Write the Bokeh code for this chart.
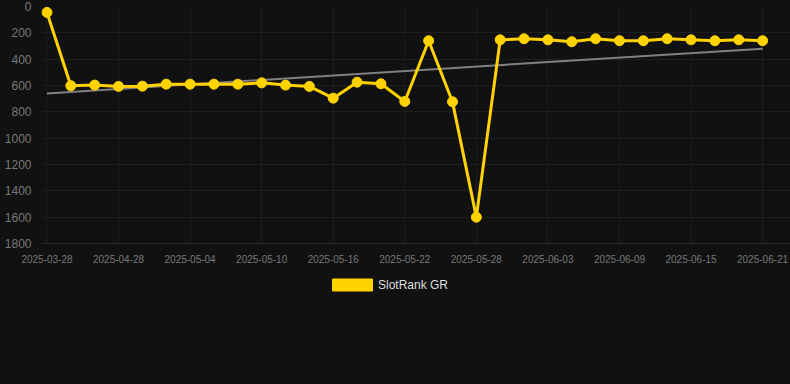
from bokeh.plotting import figure
from bokeh.layouts import column
from bokeh.models import Range1d, FixedTicker, Legend, LegendItem, ColumnDataSource
from bokeh.embed import file_html
from bokeh.resources import INLINE

dates = ["2025-03-28", "2025-04-24", "2025-04-26", "2025-04-28", "2025-04-30", "2025-05-02",
         "2025-05-04", "2025-05-06", "2025-05-08", "2025-05-10", "2025-05-12", "2025-05-14",
         "2025-05-16", "2025-05-18", "2025-05-20", "2025-05-22", "2025-05-24", "2025-05-26",
         "2025-05-28", "2025-05-30", "2025-06-01", "2025-06-03", "2025-06-05", "2025-06-07",
         "2025-06-09", "2025-06-11", "2025-06-13", "2025-06-15", "2025-06-17", "2025-06-19",
         "2025-06-21"]
ranks = [45, 602, 597, 607, 605, 590, 590, 590, 590, 580, 597, 607, 696, 575, 587, 721,
         260, 724, 1600, 253, 245, 253, 268, 245, 260, 260, 245, 253, 260, 253, 260]
trend_ends = [660, 320]
y_ticks = [0, 200, 400, 600, 800, 1000, 1200, 1400, 1600, 1800]
label_every = 3
series_name = "SlotRank GR"

FONT = "Liberation Sans"
YELLOW = "#FFD300"
BG = "#111111"

idx = list(range(len(dates)))
src = ColumnDataSource(dict(x=idx, y=ranks))

p = figure(width=790, height=270, output_backend="svg", toolbar_location=None,
           x_range=Range1d(-0.23, len(dates) - 1 + 1.17), y_range=Range1d(1800, 0),
           min_border_left=41, min_border_right=0, min_border_top=6, min_border_bottom=27)
p.background_fill_color = BG
p.border_fill_color = BG
p.outline_line_color = None

p.xaxis.ticker = FixedTicker(ticks=idx[::label_every])
p.xaxis.major_label_overrides = {i: dates[i] for i in idx[::label_every]}
p.yaxis.ticker = FixedTicker(ticks=y_ticks)

for ax in (p.xaxis, p.yaxis):
    ax.major_tick_line_color = None
    ax.minor_tick_line_color = None
    ax.major_label_text_color = "#777777"
    ax.major_label_text_font = FONT
p.yaxis.axis_line_color = None
p.xaxis.axis_line_color = "#2a2a2a"
p.yaxis.major_label_text_font_size = "12px"
p.xaxis.major_label_text_font_size = "10px"
p.yaxis.major_label_standoff = 4
p.xaxis.major_label_standoff = 5

p.xgrid.grid_line_color = "#1e1e1e"
p.ygrid.grid_line_color = "#1e1e1e"

p.line([0, len(dates) - 1], trend_ends, line_color="#808080", line_width=2)
p.line("x", "y", source=src, line_color=YELLOW, line_width=3)
p.scatter("x", "y", source=src, size=10, fill_color=YELLOW, line_color=YELLOW)

# legend strip below the chart
lf = figure(width=790, height=114, output_backend="svg", toolbar_location=None,
            x_axis_type=None, y_axis_type=None, x_range=Range1d(0, 1), y_range=Range1d(0, 1),
            min_border=0)
lf.background_fill_color = BG
lf.border_fill_color = BG
lf.outline_line_color = None
lf.grid.visible = False
dummy = lf.quad(left=[-10], right=[-9], top=[-10], bottom=[-11], fill_color=YELLOW, line_color=YELLOW)
legend = Legend(items=[LegendItem(label=series_name, renderers=[dummy])],
                orientation="horizontal", location=(286, 92),
                background_fill_alpha=0, border_line_color=None,
                label_text_color="#dddddd", label_text_font=FONT, label_text_font_size="12px",
                glyph_width=50, glyph_height=15, label_height=12, label_standoff=1,
                margin=0, padding=0)
lf.add_layout(legend)

layout = column(p, lf, spacing=0)
html = file_html(layout, INLINE)
html = html.replace("<head>", "<head><style>html,body{background:%s;margin:0;}</style>" % BG, 1)
open("out.html", "w").write(html)
